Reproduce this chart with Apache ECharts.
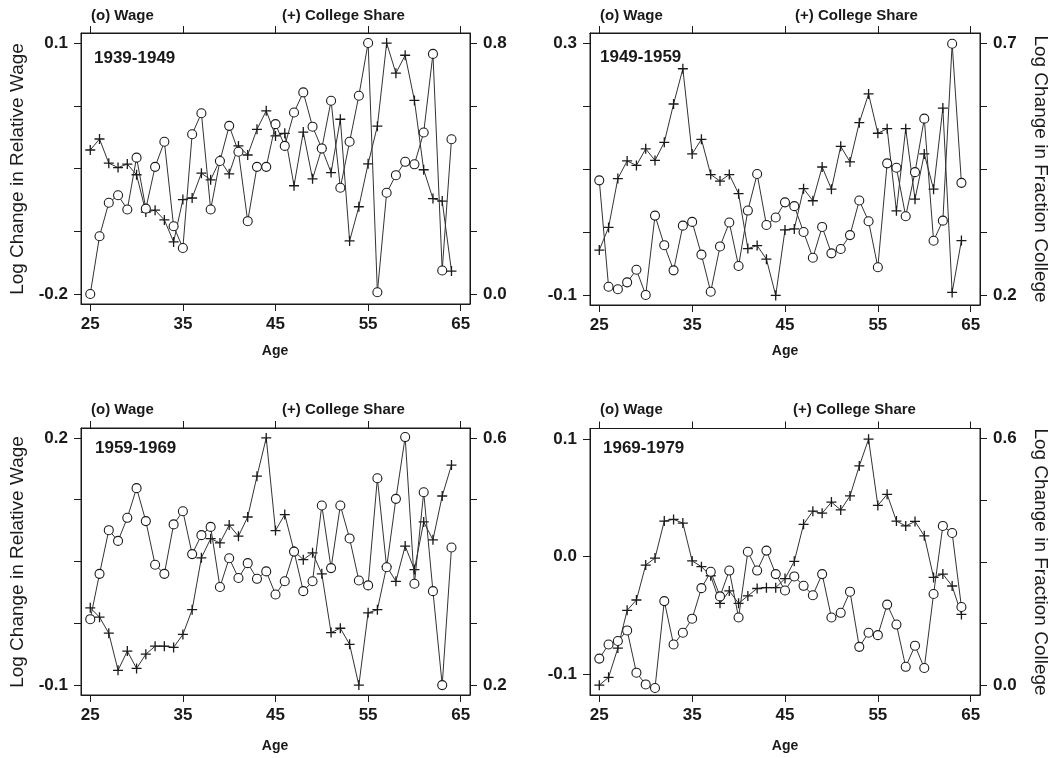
<!DOCTYPE html>
<html>
<head>
<meta charset="utf-8">
<script src="https://cdn.jsdelivr.net/npm/echarts@6/dist/echarts.min.js"></script>
<style>
html,body{margin:0;padding:0;background:#fff;}
#chart{width:1056px;height:758px;}
</style>
</head>
<body>
<div id="chart"></div>
<script>
// ---------------- data ----------------
const ages = [25,26,27,28,29,30,31,32,33,34,35,36,37,38,39,40,41,42,43,44,
              45,46,47,48,49,50,51,52,53,54,55,56,57,58,59,60,61,62,63,64];

const wage1939 = [-0.200,-0.131,-0.091,-0.082,-0.099,-0.037,-0.098,-0.048,-0.018,-0.119,
                  -0.145,-0.009,0.016,-0.099,-0.041,0.001,-0.030,-0.113,-0.048,-0.048,
                  0.003,-0.023,0.017,0.041,0.000,-0.026,0.031,-0.073,-0.018,0.037,
                  0.100,-0.198,-0.079,-0.058,-0.042,-0.045,-0.007,0.087,-0.172,-0.015];
const share1939 = [0.459,0.494,0.417,0.403,0.414,0.380,0.261,0.267,0.236,0.166,
                   0.301,0.306,0.385,0.364,0.427,0.383,0.472,0.443,0.525,0.584,
                   0.504,0.512,0.345,0.516,0.367,0.464,0.387,0.557,0.169,0.278,
                   0.415,0.535,0.800,0.704,0.761,0.617,0.396,0.304,0.296,0.073];

const wage1949 = [0.082,-0.087,-0.091,-0.080,-0.060,-0.100,0.026,-0.021,-0.061,0.010,
                  0.016,-0.036,-0.095,-0.023,0.015,-0.054,0.034,0.092,0.011,0.023,
                  0.047,0.041,0.000,-0.041,0.008,-0.034,-0.027,-0.005,0.050,0.017,
                  -0.056,0.109,0.102,0.025,0.095,0.180,-0.014,0.018,0.299,0.078];
const share1949 = [0.289,0.334,0.431,0.466,0.457,0.490,0.467,0.503,0.579,0.649,
                   0.480,0.509,0.439,0.426,0.439,0.401,0.292,0.298,0.271,0.199,
                   0.329,0.331,0.411,0.387,0.454,0.410,0.495,0.464,0.542,0.599,
                   0.521,0.530,0.367,0.530,0.390,0.480,0.410,0.571,0.205,0.308];

const wage1959 = [-0.020,0.035,0.088,0.075,0.103,0.139,0.099,0.046,0.035,0.095,
                  0.111,0.059,0.082,0.092,0.019,0.054,0.030,0.048,0.029,0.038,
                  0.010,0.026,0.062,0.014,0.026,0.118,0.042,0.118,0.078,0.027,
                  0.021,0.151,0.043,0.126,0.201,0.023,0.134,0.014,-0.100,0.067];
const share1959 = [0.325,0.310,0.284,0.224,0.255,0.227,0.250,0.263,0.263,0.261,
                   0.282,0.322,0.406,0.437,0.430,0.459,0.441,0.472,0.538,0.600,
                   0.450,0.476,0.417,0.403,0.414,0.380,0.285,0.292,0.266,0.200,
                   0.317,0.322,0.392,0.368,0.425,0.387,0.464,0.435,0.506,0.556];

const wage1969 = [-0.087,-0.075,-0.072,-0.063,-0.099,-0.109,-0.112,-0.038,-0.075,-0.065,
                  -0.053,-0.027,-0.013,-0.034,-0.012,-0.052,0.004,-0.012,0.005,-0.015,
                  -0.029,-0.017,-0.025,-0.033,-0.015,-0.052,-0.048,-0.030,-0.077,-0.065,
                  -0.067,-0.041,-0.058,-0.094,-0.076,-0.095,-0.032,0.026,0.020,-0.043];
const share1969 = [0.000,0.019,0.090,0.182,0.207,0.292,0.309,0.399,0.403,0.394,
                   0.302,0.288,0.266,0.199,0.229,0.199,0.217,0.235,0.237,0.237,
                   0.259,0.301,0.391,0.423,0.418,0.445,0.426,0.460,0.533,0.598,
                   0.437,0.464,0.399,0.387,0.398,0.363,0.262,0.270,0.241,0.172];

// tick values / labels
const ageTicks = [25,35,45,55,65];
const periods = ['1939-1949','1949-1959','1959-1969','1969-1979'];
const wageTicks1 = [0.1,0.025,-0.05,-0.125,-0.2];   const wageLabels1 = [0.1,-0.2];
const shareTicks1 = [0.8,0.6,0.4,0.2,0.0];          const shareLabels1 = [0.8,0.0];
const wageTicks2 = [0.3,0.2,0.1,0.0,-0.1];          const wageLabels2 = [0.3,-0.1];
const shareTicks2 = [0.7,0.575,0.45,0.325,0.2];     const shareLabels2 = [0.7,0.2];
const wageTicks3 = [0.2,0.125,0.05,-0.025,-0.1];    const wageLabels3 = [0.2,-0.1];
const shareTicks3 = [0.6,0.5,0.4,0.3,0.2];          const shareLabels3 = [0.6,0.2];
const wageTicks4 = [0.1,0.0,-0.1];                  const wageLabels4 = [0.1,0.0,-0.1];
const shareTicks4 = [0.6,0.45,0.3,0.15,0.0];        const shareLabels4 = [0.6,0.0];

// ---------------- layout ----------------
const FONT = '"Liberation Sans", Arial, sans-serif';
const INK = '#1a1a1a';
const panels = [
  {grid:{left:81,top:33,width:389,height:271}, wage:wage1939, share:share1939,
   yL:[-0.212,0.112], yR:[-0.032,0.832], tL:wageTicks1, lL:wageLabels1, tR:shareTicks1, lR:shareLabels1},
  {grid:{left:590,top:33,width:390,height:272}, wage:wage1949, share:share1949,
   yL:[-0.116,0.316], yR:[0.18,0.72], tL:wageTicks2, lL:wageLabels2, tR:shareTicks2, lR:shareLabels2},
  {grid:{left:81,top:428,width:389,height:267}, wage:wage1959, share:share1959,
   yL:[-0.112,0.212], yR:[0.184,0.616], tL:wageTicks3, lL:wageLabels3, tR:shareTicks3, lR:shareLabels3},
  {grid:{left:590,top:428.5,width:390,height:266.5}, wage:wage1969, share:share1969,
   yL:[-0.118,0.109], yR:[-0.024,0.624], tL:wageTicks4, lL:wageLabels4, tR:shareTicks4, lR:shareLabels4}
];

const grids = [], xAxes = [], yAxes = [], series = [], graphics = [];
const fmt = v => (Math.abs(v) < 1e-9 ? 0 : v).toFixed(1);

panels.forEach((p, i) => {
  grids.push(Object.assign({show:true, borderColor:INK, borderWidth:1, backgroundColor:'transparent'}, p.grid));
  // bottom x axis
  xAxes.push({
    type:'value', gridIndex:i, position:'bottom', min:24, max:66,
    axisLine:{show:true, onZero:false, lineStyle:{color:INK, width:1}},
    axisTick:{show:true, length:7, customValues:ageTicks, lineStyle:{color:INK}},
    axisLabel:{show:true, customValues:ageTicks, margin:12, color:INK,
               fontFamily:FONT, fontSize:17, fontWeight:'bold'},
    splitLine:{show:false}
  });
  // top x axis (ticks only)
  xAxes.push({
    type:'value', gridIndex:i, position:'top', min:24, max:66,
    axisLine:{show:true, onZero:false, lineStyle:{color:INK, width:1}},
    axisTick:{show:true, length:7, customValues:ageTicks, lineStyle:{color:INK}},
    axisLabel:{show:false}, splitLine:{show:false}
  });
  yAxes.push({
    type:'value', gridIndex:i, position:'left', min:p.yL[0], max:p.yL[1],
    axisLine:{show:true, onZero:false, lineStyle:{color:INK, width:1}},
    axisTick:{show:true, length:7, customValues:p.tL, lineStyle:{color:INK}},
    axisLabel:{show:true, customValues:p.lL, formatter:fmt, margin:13, color:INK,
               fontFamily:FONT, fontSize:17, fontWeight:'bold'},
    splitLine:{show:false}
  });
  yAxes.push({
    type:'value', gridIndex:i, position:'right', min:p.yR[0], max:p.yR[1],
    axisLine:{show:true, onZero:false, lineStyle:{color:INK, width:1}},
    axisTick:{show:true, length:7, customValues:p.tR, lineStyle:{color:INK}},
    axisLabel:{show:true, customValues:p.lR, formatter:fmt, margin:13, color:INK,
               fontFamily:FONT, fontSize:17, fontWeight:'bold'},
    splitLine:{show:false}
  });
  series.push({
    type:'line', name:'College Share '+periods[i], xAxisIndex:2*i, yAxisIndex:2*i+1,
    data: ages.map((a, k) => [a, p.share[k]]),
    symbol:'path://M0,5L10,5M5,0L5,10', symbolSize:10, showSymbol:true,
    itemStyle:{color:'rgba(0,0,0,0)', borderColor:INK, borderWidth:1.3},
    lineStyle:{color:'#333', width:1}, silent:true, z:2
  });
  series.push({
    type:'line', name:'Wage '+periods[i], xAxisIndex:2*i, yAxisIndex:2*i,
    data: ages.map((a, k) => [a, p.wage[k]]),
    symbol:'circle', symbolSize:9, showSymbol:true,
    itemStyle:{color:'#fff', borderColor:INK, borderWidth:1.1},
    lineStyle:{color:'#333', width:1}, silent:true, z:3
  });
});

function txt(x, y, text, font, align, rot) {
  return {type:'text', x:x, y:y, rotation:rot || 0, silent:true,
          style:{text:text, font:font, fill:INK, align:align || 'left', verticalAlign:'middle'}};
}
const legendFont = 'bold 15px ' + FONT;
const yearFont = 'bold 17px ' + FONT;
const titleFont = '19px ' + FONT;
const ageFont = 'bold 14px ' + FONT;

graphics.push(
  txt(91, 16, '(o) Wage', legendFont), txt(282, 16, '(+) College Share', legendFont),
  txt(600, 16, '(o) Wage', legendFont), txt(795, 16, '(+) College Share', legendFont),
  txt(91, 410, '(o) Wage', legendFont), txt(282, 410, '(+) College Share', legendFont),
  txt(600, 410, '(o) Wage', legendFont), txt(793, 410, '(+) College Share', legendFont),
  txt(94, 58, periods[0], yearFont), txt(600, 57, periods[1], yearFont),
  txt(95, 448, periods[2], yearFont), txt(603, 448, periods[3], yearFont),
  txt(275, 351, 'Age', ageFont, 'center'), txt(785, 351, 'Age', ageFont, 'center'),
  txt(275, 746, 'Age', ageFont, 'center'), txt(785, 746, 'Age', ageFont, 'center'),
  txt(18, 169, 'Log Change in Relative Wage', titleFont, 'center', Math.PI/2),
  txt(18, 562, 'Log Change in Relative Wage', titleFont, 'center', Math.PI/2),
  txt(1040, 169, 'Log Change in Fraction College', titleFont, 'center', -Math.PI/2),
  txt(1040, 562, 'Log Change in Fraction College', titleFont, 'center', -Math.PI/2)
);

const chart = echarts.init(document.getElementById('chart'), null, {renderer:'canvas'});
chart.setOption({
  animation:false,
  backgroundColor:'#fff',
  grid:grids, xAxis:xAxes, yAxis:yAxes, series:series, graphic:graphics
});
</script>
</body>
</html>
